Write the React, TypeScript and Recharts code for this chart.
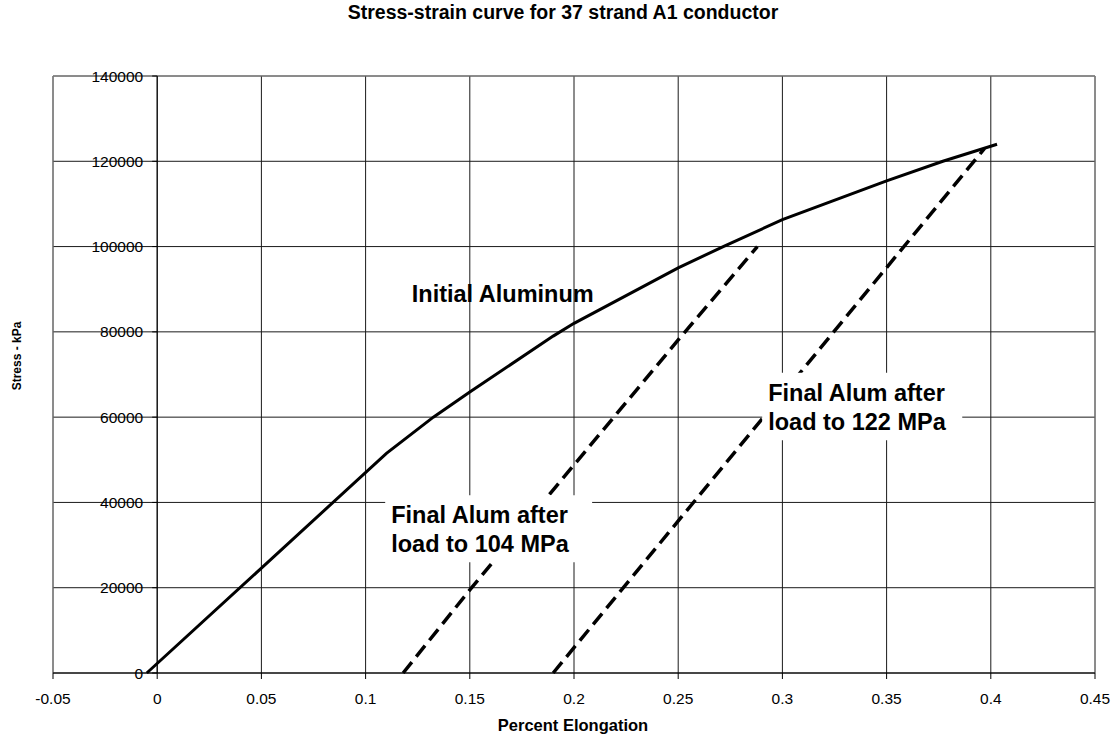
import React from 'react'
import { LineChart, Line, XAxis, YAxis, CartesianGrid, ReferenceLine, ReferenceArea } from 'recharts'

const FONT = '"Liberation Sans", Arial, sans-serif'

// axis ticks
const xTicks = [-0.05, 0, 0.05, 0.1, 0.15, 0.2, 0.25, 0.3, 0.35, 0.4, 0.45]
const yTicks = [0, 20000, 40000, 60000, 80000, 100000, 120000, 140000]

// Initial Aluminum curve (percent elongation, kPa)
const initialStrain = [-0.005, 0.05, 0.11, 0.1325, 0.15, 0.19, 0.2, 0.25, 0.2716, 0.3, 0.35, 0.377, 0.403]
const initialStress = [0, 24600, 51500, 60000, 65900, 79000, 82000, 95000, 100000, 106300, 115400, 120000, 124000]

// Final Alum after load to 104 MPa
const final104Strain = [0.118, 0.15, 0.25, 0.288]
const final104Stress = [0, 19500, 78100, 100000]

// Final Alum after load to 122 MPa
const final122Strain = [0.19, 0.397]
const final122Stress = [0, 123000]

const toPoints = (xs: number[], ys: number[]) => xs.map((x, i) => ({ x, y: ys[i] }))

const W = 1117
const H = 740
const Y_W = 1
const M = { top: 76, right: 22, bottom: 0, left: 53 - Y_W }
const X_MIN = -0.05
const X_MAX = 0.45
const PLOT_LEFT = M.left + Y_W
const PLOT_W = W - PLOT_LEFT - M.right
// the vertical axis crosses at x = 0
const Y_AXIS_PX = PLOT_LEFT + (PLOT_W * (0 - X_MIN)) / (X_MAX - X_MIN)

function YTick(props: any) {
  const { y, payload } = props
  return (
    <g>
      <line x1={Y_AXIS_PX - 5} x2={Y_AXIS_PX} y1={y} y2={y} stroke="#000" />
      <text x={Y_AXIS_PX - 14} y={y + 5.5} textAnchor="end" fontSize={15.5} fontFamily={FONT} fill="#000">
        {payload?.value}
      </text>
    </g>
  )
}

function boxLabel(lines: string[]) {
  return (props: any) => {
    const { x, y } = props.viewBox || {}
    return (
      <text fontSize={23.5} fontWeight={700} fontFamily={FONT} fill="#000">
        {lines.map((l, i) => (
          <tspan key={l} x={x + 6} y={y + 28 + i * 29}>{l}</tspan>
        ))}
      </text>
    )
  }
}

function centerLabel(text: string) {
  return (props: any) => {
    const { x, y, width } = props.viewBox || {}
    return (
      <text x={x + width / 2} y={y + 22} textAnchor="middle" fontSize={23.5} fontWeight={700} fontFamily={FONT} fill="#000">
        {text}
      </text>
    )
  }
}

export default function App() {
  return (
    <div style={{ position: 'absolute', left: 0, top: 0, width: W, height: H, background: '#fff', fontFamily: FONT }}>
      <LineChart width={W} height={H} margin={M}>
        <CartesianGrid stroke="#1a1a1a" />
        <XAxis
          dataKey="x"
          type="number"
          domain={[X_MIN, X_MAX]}
          ticks={xTicks}
          interval={0}
          allowDataOverflow
          height={67}
          axisLine={{ stroke: '#000' }}
          tickLine={{ stroke: '#000' }}
          tickSize={6}
          tickMargin={14}
          tick={{ fontSize: 15.5, fill: '#000', fontFamily: FONT }}
        />
        <YAxis
          type="number"
          domain={[0, 140000]}
          ticks={yTicks}
          interval={0}
          width={Y_W}
          axisLine={false}
          tickLine={false}
          tick={YTick}
        />
        <ReferenceLine x={X_MIN} stroke="#8a8a8a" />
        <ReferenceLine x={X_MAX} stroke="#8a8a8a" />
        <ReferenceLine y={140000} stroke="#8a8a8a" />
        <ReferenceLine x={0} stroke="#000" />
        <Line data={toPoints(initialStrain, initialStress)} dataKey="y" type="linear" stroke="#000" strokeWidth={3} dot={false} isAnimationActive={false} />
        <Line data={toPoints(final104Strain, final104Stress)} dataKey="y" type="linear" stroke="#000" strokeWidth={3.5} strokeDasharray="14 7" dot={false} isAnimationActive={false} />
        <Line data={toPoints(final122Strain, final122Stress)} dataKey="y" type="linear" stroke="#000" strokeWidth={3.5} strokeDasharray="14 7" dot={false} isAnimationActive={false} />
        <ReferenceArea x1={0.119} x2={0.2126} y1={85100} y2={92200} fill="#fff" fillOpacity={0} stroke="none" label={centerLabel('Initial Aluminum')} />
        <ReferenceArea x1={0.1094} x2={0.2087} y1={26000} y2={41700} fill="#fff" fillOpacity={1} stroke="none" zIndex={450} label={boxLabel(['Final Alum after', 'load to 104 MPa'])} />
        <ReferenceArea x1={0.2903} x2={0.3863} y1={54600} y2={70400} fill="#fff" fillOpacity={1} stroke="none" zIndex={450} label={boxLabel(['Final Alum after', 'load to 122 MPa'])} />
      </LineChart>
      <svg width={W} height={H} style={{ position: 'absolute', left: 0, top: 0, pointerEvents: 'none' }}>
        <text x={563} y={19} textAnchor="middle" fontSize={19.5} fontWeight={700} fontFamily={FONT} fill="#000">
          Stress-strain curve for 37 strand A1 conductor
        </text>
        <text x={573} y={731} textAnchor="middle" fontSize={16.5} fontWeight={700} fontFamily={FONT} fill="#000">
          Percent Elongation
        </text>
        <text transform="translate(21, 356) rotate(-90)" textAnchor="middle" fontSize={12} fontWeight={700} fontFamily={FONT} fill="#000">
          Stress - kPa
        </text>
      </svg>
    </div>
  )
}
